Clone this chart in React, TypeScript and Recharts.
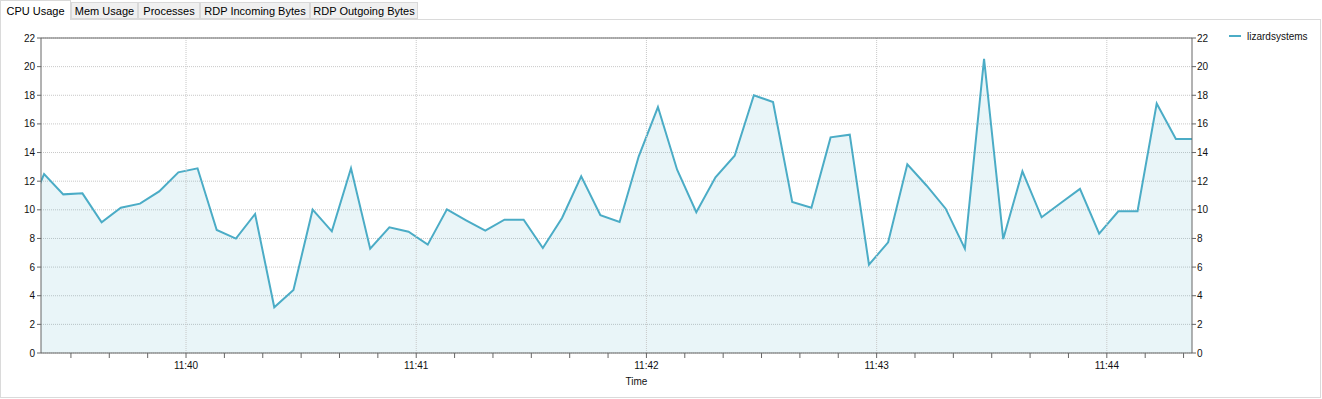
import { AreaChart, Area, XAxis, YAxis, CartesianGrid, ReferenceLine, Legend } from "recharts"

// seconds after 11:39:00, one sample every 5 s
const seconds = [
  18, 23, 28, 33, 38, 43, 48, 53, 58, 63, 68, 73, 78, 83, 88, 93,
  98, 103, 108, 113, 118, 123, 128, 133, 138, 143, 148, 153, 158, 163, 168, 173,
  178, 183, 188, 193, 198, 203, 208, 213, 218, 223, 228, 233, 238, 243, 248, 253,
  258, 263, 268, 273, 278, 283, 288, 293, 298, 303, 308, 313, 318, 323,
]

const cpu = [
  9.3, 12.5, 11.08, 11.15, 9.13, 10.15, 10.43, 11.29, 12.62, 12.9, 8.59, 7.99, 9.71, 3.19, 4.4, 10.01,
  8.5, 12.9, 7.29, 8.78, 8.47, 7.57, 10.03, 9.27, 8.54, 9.31, 9.31, 7.33, 9.43, 12.34, 9.62, 9.15,
  13.74, 17.18, 12.8, 9.83, 12.27, 13.78, 18.0, 17.53, 10.55, 10.15, 15.06, 15.25, 6.17, 7.73, 13.18, 11.7,
  10.08, 7.29, 20.54, 7.96, 12.69, 9.48, 10.48, 11.46, 8.34, 9.9, 9.9, 17.42, 14.95, 14.95,
]

const minorTicks = [
  30, 40, 50, 60, 70, 80, 90, 100, 110, 120, 130, 140, 150, 160, 170,
  180, 190, 200, 210, 220, 230, 240, 250, 260, 270, 280, 290, 300, 310, 320,
]
const majorTicks = [60, 120, 180, 240, 300]
const majorLabels = ["11:40", "11:41", "11:42", "11:43", "11:44"]
const yTicks = [0, 2, 4, 6, 8, 10, 12, 14, 16, 18, 20, 22]

const tabs = ["CPU Usage", "Mem Usage", "Processes", "RDP Incoming Bytes", "RDP Outgoing Bytes"]
const tabWidths = [71, 67, 62, 110, 108]

const seriesName = "lizardsystems"
const color = "#4BACC6"
const uiFont = "'Liberation Sans', Arial, sans-serif"
const axisFont = "'Liberation Sans Narrow', 'Liberation Sans', Arial, sans-serif"

const data = seconds.map((s, i) => ({ s, cpu: cpu[i] }))

function timeLabel(s: number) {
  const i = majorTicks.indexOf(s)
  return i >= 0 ? majorLabels[i] : ""
}

function LegendBox() {
  return (
    <div style={{ width: 100, height: 14, display: "flex", alignItems: "center", fontFamily: uiFont, fontSize: 10, color: "#111" }}>
      <div style={{ width: 12, height: 2, background: color, marginLeft: 9, marginRight: 6 }} />
      <span>{seriesName}</span>
    </div>
  )
}

export default function App() {
  let left = 0
  return (
    <div style={{ position: "absolute", left: 0, top: 0, width: 1322, height: 399, background: "#fff", fontFamily: uiFont }}>
      <style>{"body{margin:0}"}</style>

      {tabs.map((t, i) => {
        const x = left
        left += tabWidths[i]
        const active = i === 0
        return (
          <div
            key={t}
            style={{
              position: "absolute",
              left: x,
              top: active ? 0 : 2,
              width: tabWidths[i],
              height: active ? 20 : 17,
              boxSizing: "border-box",
              border: "1px solid #d9d9d9",
              borderBottom: active ? "none" : "1px solid #d9d9d9",
              background: active ? "#fff" : "#f0f0f0",
              fontSize: 11,
              color: "#000",
              textAlign: "center",
              lineHeight: active ? "20px" : "16px",
              zIndex: active ? 2 : 1,
            }}
          >
            {t}
          </div>
        )
      })}

      <div style={{ position: "absolute", left: 0, top: 19, width: 1321, height: 379, boxSizing: "border-box", border: "1px solid #dadada" }} />

      <div style={{ position: "absolute", left: 0, top: 20 }}>
        <AreaChart width={1320} height={377} data={data} margin={{ top: 18, right: 0, bottom: 0, left: 0 }}>
          <CartesianGrid yAxisId="left" vertical={false} stroke="#c8c8c8" strokeDasharray="1 1" />
          <XAxis
            dataKey="s"
            type="number"
            domain={[22.2, 322.2]}
            allowDataOverflow
            ticks={minorTicks}
            interval={0}
            tickFormatter={timeLabel}
            height={44}
            tickSize={5}
            tickMargin={4}
            stroke="#666"
            tick={{ fill: "#111", fontSize: 10, fontFamily: axisFont }}
            label={{ value: "Time", position: "insideBottom", offset: 12, dx: 20, fill: "#111", fontSize: 10, fontFamily: axisFont }}
          />
          <YAxis
            yAxisId="left"
            domain={[0, 22]}
            ticks={yTicks}
            interval={0}
            width={41}
            tickSize={4}
            tickMargin={2}
            stroke="#666"
            tick={{ fill: "#111", fontSize: 10, fontFamily: axisFont }}
          />
          <YAxis
            yAxisId="right"
            orientation="right"
            domain={[0, 22]}
            allowDataOverflow
            ticks={yTicks}
            interval={0}
            width={28}
            tickSize={4}
            tickMargin={1}
            stroke="#666"
            tick={{ fill: "#111", fontSize: 10, fontFamily: axisFont }}
          />
          {majorTicks.map((t) => (
            <ReferenceLine key={t} yAxisId="left" x={t} stroke="#c8c8c8" strokeDasharray="1 1" />
          ))}
          <ReferenceLine yAxisId="left" y={22} stroke="#666" />
          <Legend layout="vertical" align="right" verticalAlign="top" content={<LegendBox />} wrapperStyle={{ top: 9, right: 0 }} />
          <Area
            yAxisId="left"
            type="linear"
            dataKey="cpu"
            name={seriesName}
            stroke={color}
            strokeWidth={2}
            fill={color}
            fillOpacity={0.12}
            dot={false}
            activeDot={false}
            isAnimationActive={false}
          />
        </AreaChart>
      </div>
    </div>
  )
}
